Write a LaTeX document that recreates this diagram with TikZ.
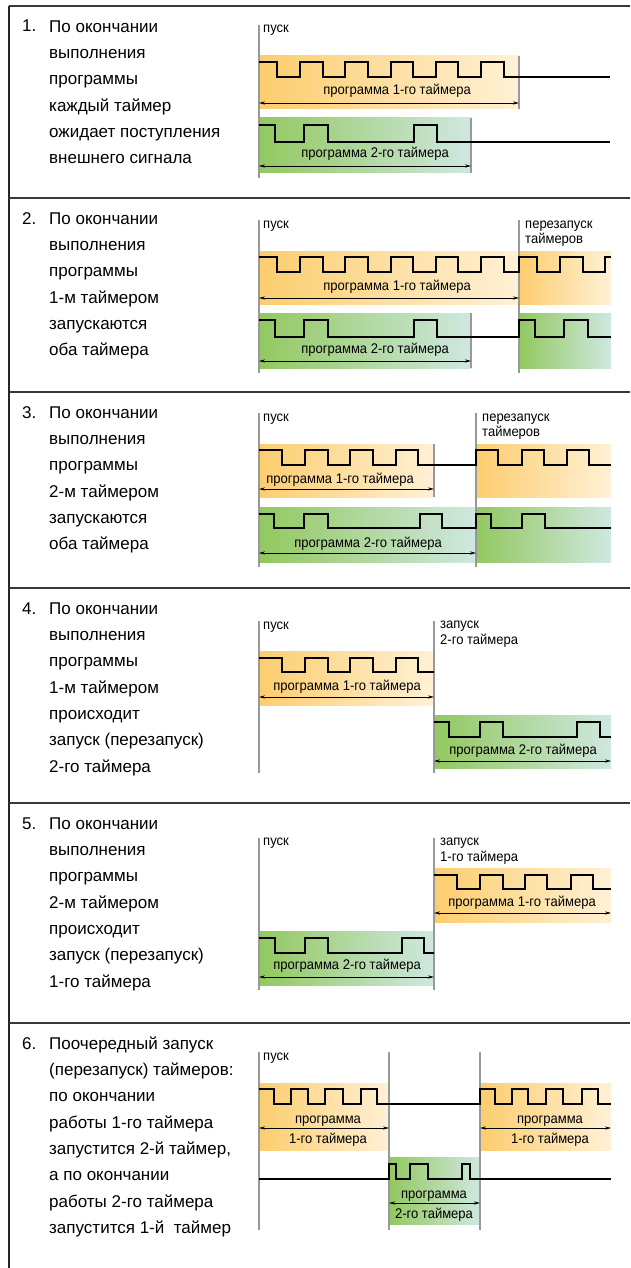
\documentclass[tikz,border=0pt]{standalone}
\usepackage{fontspec}
\setmainfont{Liberation Sans}
\newfontfamily\labfam[FakeStretch=0.93]{Liberation Sans}
\usetikzlibrary{arrows.meta}
\newcommand\bodyfnt{\fontsize{17}{26.3}\selectfont}
\newcommand\labfnt{\labfam\fontsize{14}{15.5}\selectfont}
\definecolor{orL}{RGB}{252,205,110}
\definecolor{orR}{RGB}{255,241,214}
\definecolor{grL}{RGB}{146,200,95}
\definecolor{grR}{RGB}{207,232,224}
\tikzset{
  sepline/.style={line width=2pt, draw=black!78},
  border/.style={line width=1.2pt, draw=black!85},
  marker/.style={draw=black!40, line width=1.2pt},
  wave/.style={line width=1.3pt, line join=miter},
  span/.style={line width=0.7pt, {Stealth[length=6pt,width=3.2pt]}-{Stealth[length=6pt,width=3.2pt]}},
  orband/.style={left color=orL, right color=orR},
  grband/.style={left color=grL, right color=grR},
  lbl/.style={font=\labfnt, inner sep=0pt},
  body/.style={font=\bodyfnt, inner sep=0pt, align=left, anchor=north west},
  num/.style={font=\bodyfnt, inner sep=0pt, anchor=base west},
}
\begin{document}
\begin{tikzpicture}[x=1pt,y=-1pt]
\useasboundingbox (0,0) rectangle (630,1268);
\fill[white] (0,0) rectangle (630,1268);
% frame
\draw[border] (9,6) -- (9,1268);
\foreach \yy in {6,198,392,588,803,1023} \draw[sepline] (9,\yy) -- (630,\yy);

% left texts
\node[num] (n1) at (22,32) {1.};
\node[body] (t1) at (49,19) {\rule{0pt}{13pt}По окончании\\выполнения\\программы\\каждый таймер\\ожидает поступления\\внешнего сигнала};
\node[num] (n2) at (22,224) {2.};
\node[body] (t2) at (49,211) {\rule{0pt}{13pt}По окончании\\выполнения\\программы\\1-м таймером\\запускаются\\оба таймера};
\node[num] (n3) at (22,418) {3.};
\node[body] (t3) at (49,405) {\rule{0pt}{13pt}По окончании\\выполнения\\программы\\2-м таймером\\запускаются\\оба таймера};
\node[num] (n4) at (22,614) {4.};
\node[body] (t4) at (49,601) {\rule{0pt}{13pt}По окончании\\выполнения\\программы\\1-м таймером\\происходит\\запуск (перезапуск)\\2-го таймера};
\node[num] (n5) at (22,829) {5.};
\node[body] (t5) at (49,816) {\rule{0pt}{13pt}По окончании\\выполнения\\программы\\2-м таймером\\происходит\\запуск (перезапуск)\\1-го таймера};
\node[num] (n6) at (22,1049) {6.};
\node[body] (t6) at (49,1036) {\rule{0pt}{13pt}Поочередный запуск\\(перезапуск) таймеров:\\по окончании\\работы 1-го таймера\\запустится 2-й таймер,\\а по окончании\\работы 2-го таймера\\запустится 1-й~~таймер};

% ---------- panel 1
\begin{scope}
\shade[orband] (259,56) rectangle (519,109);
\shade[grband] (259,118) rectangle (471,173);
\draw[marker] (259,25) -- (259,178);
\draw[marker] (519,56) -- (519,109);
\draw[marker] (471,118) -- (471,173);
\node[lbl, anchor=base west] (a1) at (263,33) {пуск};
\draw[wave] (259,62) -| (277,77) -| (300,62) -| (323,77) -| (345,62) -| (368,77) -| (391,62) -| (413,77) -| (436,62) -| (458,77) -| (481,62) -| (504,77) -- (610,77);
\draw[wave] (259,125) -| (275,142) -| (304,125) -| (328,142) -| (414,125) -| (437,142) -- (610,142);
\draw[span] (259,103) -- (519,103);
\draw[span] (259,166) -- (471,166);
\node[lbl, anchor=base] (b1) at (397,95) {программа 1-го таймера};
\node[lbl, anchor=base] (c1) at (375,158) {программа 2-го таймера};
\end{scope}

% ---------- panel 2
\begin{scope}[shift={(0,195)}]
\shade[orband] (259,56) rectangle (519,109);
\shade[orband] (519,56) rectangle (611,109);
\shade[grband] (259,118) rectangle (471,173);
\shade[grband] (519,118) rectangle (611,173);
\draw[marker] (259,25) -- (259,178);
\draw[marker] (519,25) -- (519,178);
\draw[marker] (471,118) -- (471,173);
\node[lbl, anchor=base west] (a2) at (263,33) {пуск};
\node[lbl, anchor=base west] (d2) at (525,33) {перезапуск};
\node[lbl, anchor=base west] (e2) at (525,48.5) {таймеров};
\draw[wave] (259,62) -| (277,77) -| (300,62) -| (323,77) -| (345,62) -| (368,77) -| (391,62) -| (413,77) -| (436,62) -| (458,77) -| (481,62) -| (504,77) -| (519,62) -| (537,77) -| (560,62) -| (583,77) -| (605,62) -- (611,62);
\draw[wave] (259,125) -| (275,142) -| (304,125) -| (328,142) -| (414,125) -| (437,142) -| (519,125) -| (535,142) -| (564,125) -| (588,142) -- (611,142);
\draw[span] (259,103) -- (519,103);
\draw[span] (259,166) -- (471,166);
\node[lbl, anchor=base] (b2) at (397,95) {программа 1-го таймера};
\node[lbl, anchor=base] (c2) at (375,158) {программа 2-го таймера};
\end{scope}

% ---------- panel 3
\begin{scope}[shift={(0,388)}]
\shade[orband] (259,56) rectangle (434,109);
\shade[orband] (476,56) rectangle (611,109);
\shade[grband] (259,119) rectangle (476,174);
\shade[grband] (476,119) rectangle (611,174);
\draw[marker] (259,25) -- (259,179);
\draw[marker] (476,25) -- (476,179);
\draw[marker] (434,56) -- (434,109);
\node[lbl, anchor=base west] (a3) at (263,33) {пуск};
\node[lbl, anchor=base west] (d3) at (482,33) {перезапуск};
\node[lbl, anchor=base west] (e3) at (482,48.5) {таймеров};
\draw[wave] (259,62) -| (282,77) -| (305,62) -| (328,77) -| (350,62) -| (373,77) -| (396,62) -| (418,77) -| (476,62) -| (498,77) -| (522,62) -| (544,77) -| (567,62) -| (589,77) -- (611,77);
\draw[wave] (259,126) -| (274,140) -| (304,126) -| (328,140) -| (420,126) -| (442,140) -| (476,126) -| (491,140) -| (522,126) -| (545,140) -- (611,140);
\draw[span] (259,101) -- (434,101);
\draw[span] (259,165) -- (476,165);
\node[lbl, anchor=base] (b3) at (340,95) {программа 1-го таймера};
\node[lbl, anchor=base] (c3) at (368,159) {программа 2-го таймера};
\end{scope}

% ---------- panel 4
\begin{scope}[shift={(0,596)}]
\shade[orband] (259,55) rectangle (434,109);
\shade[grband] (434,119) rectangle (611,172);
\draw[marker] (259,25) -- (259,177);
\draw[marker] (434,25) -- (434,177);
\node[lbl, anchor=base west] (a4) at (263,33) {пуск};
\node[lbl, anchor=base west] (d4) at (440,32) {запуск};
\node[lbl, anchor=base west] (e4) at (440,48) {2-го таймера};
\draw[wave] (259,62) -| (282,76) -| (305,62) -| (328,76) -| (350,62) -| (373,76) -| (396,62) -| (418,76) -- (434,76);
\draw[wave] (434,126) -| (449,141) -| (480,126) -| (503,141) -| (577,126) -| (600,141) -- (611,141);
\draw[span] (259,101) -- (434,101);
\draw[span] (434,165) -- (611,165);
\node[lbl, anchor=base] (b4) at (347,94) {программа 1-го таймера};
\node[lbl, anchor=base] (c4) at (523,158) {программа 2-го таймера};
\end{scope}

% ---------- panel 5
\begin{scope}[shift={(0,813)}]
\shade[orband] (434,55) rectangle (611,109);
\shade[grband] (259,118) rectangle (434,172);
\draw[marker] (259,25) -- (259,177);
\draw[marker] (434,25) -- (434,177);
\node[lbl, anchor=base west] (a5) at (263,32) {пуск};
\node[lbl, anchor=base west] (d5) at (440,32) {запуск};
\node[lbl, anchor=base west] (e5) at (440,48) {1-го таймера};
\draw[wave] (434,62) -| (457,76) -| (480,62) -| (503,76) -| (525,62) -| (547,76) -| (571,62) -| (593,76) -- (611,76);
\draw[wave] (259,125) -| (275,140) -| (305,125) -| (328,140) -| (402,125) -| (424,140) -- (434,140);
\draw[span] (434,100) -- (611,100);
\draw[span] (259,164) -- (434,164);
\node[lbl, anchor=base] (b5) at (522,93) {программа 1-го таймера};
\node[lbl, anchor=base] (c5) at (347,156) {программа 2-го таймера};
\end{scope}

% ---------- panel 6
\begin{scope}[shift={(0,1027)}]
\shade[orband] (259,56) rectangle (389,123);
\shade[orband] (480,56) rectangle (611,123);
\shade[grband] (389,130) rectangle (480,197);
\draw[marker] (259,25) -- (259,203);
\draw[marker] (389,25) -- (389,203);
\draw[marker] (480,25) -- (480,203);
\node[lbl, anchor=base west] (a6) at (263,33) {пуск};
\draw[wave] (259,62) -| (274,77) -| (291,62) -| (308,77) -| (325,62) -| (343,77) -| (361,62) -| (377,77) -| (480,62) -| (495,77) -| (512,62) -| (528,77) -| (546,62) -| (563,77) -| (582,62) -| (598,77) -- (611,77);
\draw[wave] (259,152) -| (389,137) -| (396,152) -| (410,137) -| (428,152) -| (462,137) -| (470,152) -- (611,152);
\draw[span] (259,101) -- (389,101);
\draw[span] (480,101) -- (611,101);
\draw[span] (389,176) -- (480,176);
\node[lbl, anchor=base] (b6) at (328,96) {программа};
\node[lbl, anchor=base] (f6) at (328,116) {1-го таймера};
\node[lbl, anchor=base] (g6) at (550,96) {программа};
\node[lbl, anchor=base] (h6) at (550,116) {1-го таймера};
\node[lbl, anchor=base] (c6) at (434,171) {программа};
\node[lbl, anchor=base] (k6) at (434,191) {2-го таймера};
\end{scope}
\end{tikzpicture}
\end{document}
